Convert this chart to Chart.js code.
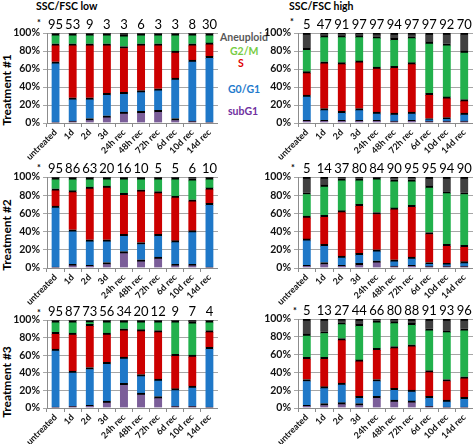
<!DOCTYPE html>
<html>
<head>
<meta charset="utf-8">
<script src="https://cdn.jsdelivr.net/npm/chart.js@4"></script>
<style>
  body { margin: 0; width: 473px; height: 444px; position: relative; overflow: hidden; background: #fff; font-family: Lato, sans-serif; }
  canvas { position: absolute; }
  .t { position: absolute; font-weight: bold; white-space: nowrap; line-height: 1; }
  .rot { transform: translate(-50%, -50%) rotate(-90deg); font-size: 12px; color: #000; }
</style>
</head>
<body>
<div class="t" style="left:36px;top:1px;font-size:10.5px">SSC/FSC low</div>
<div class="t" style="left:289px;top:1px;font-size:10.5px">SSC/FSC high</div>

<div class="t" style="left:37px;top:18px;font-size:9px">*</div>
<div class="t" style="left:37px;top:163px;font-size:9px">*</div>
<div class="t" style="left:37px;top:308px;font-size:9px">*</div>
<div class="t" style="left:290px;top:17px;font-size:9px">*</div>
<div class="t" style="left:291px;top:163px;font-size:9px">*</div>
<div class="t" style="left:293px;top:306px;font-size:9px">*</div>

<div class="t" style="left:220px;top:32px;font-size:10.5px;color:#595959">Aneuploid</div>
<div class="t" style="left:230px;top:46px;font-size:10.5px;color:#77cc44">G2/M</div>
<div class="t" style="left:238px;top:58px;font-size:10.5px;color:#e00000">S</div>
<div class="t" style="left:228px;top:84px;font-size:10.5px;color:#1f7acc">G0/G1</div>
<div class="t" style="left:228px;top:106px;font-size:10.5px;color:#7030a0">subG1</div>

<div class="t rot" style="left:7px;top:90px">Treatment #1</div>
<div class="t rot" style="left:7px;top:235px">Treatment #2</div>
<div class="t rot" style="left:7px;top:382px">Treatment #3</div>

<canvas id="t1low" width="218" height="150" style="left:0;top:13px"></canvas>
<canvas id="t1high" width="223" height="150" style="left:250px;top:13px"></canvas>
<canvas id="t2low" width="218" height="151" style="left:0;top:157px"></canvas>
<canvas id="t2high" width="223" height="151" style="left:250px;top:157px"></canvas>
<canvas id="t3low" width="218" height="148" style="left:0;top:300px"></canvas>
<canvas id="t3high" width="223" height="149" style="left:250px;top:299px"></canvas>

<script>
const categories = ['untreated', '1d', '2d', '3d', '24h rec', '48h rec', '72h rec', '6d rec', '10d rec', '14d rec'];

// Treatment #1, SSC/FSC low
const t1LowCounts = ['95', '53', '9', '3', '3', '6', '3', '3', '8', '30'];
const t1LowSub = [1, 2, 5, 8, 12, 13, 14, 5, 2, 1];
const t1LowG01 = [67, 26, 23, 25, 22, 23, 24, 45, 68, 73];
const t1LowS = [20, 60, 60, 55, 51, 52, 50, 30, 18, 15];
const t1LowG2M = [11, 11, 11, 11, 13, 11, 11, 19, 11, 10];
const t1LowAneu = [1, 1, 1, 1, 2, 1, 1, 1, 1, 1];

// Treatment #1, SSC/FSC high
const t1HighCounts = ['5', '47', '91', '97', '97', '94', '97', '97', '92', '70'];
const t1HighSub = [3, 3, 3, 3, 3, 2, 3, 2, 2, 2];
const t1HighG01 = [28, 13, 10, 13, 9, 9, 9, 3, 4, 9];
const t1HighS = [26, 52, 54, 53, 50, 52, 55, 28, 23, 15];
const t1HighG2M = [26, 29, 30, 28, 34, 31, 29, 57, 59, 54];
const t1HighAneu = [17, 3, 3, 3, 4, 6, 4, 10, 12, 20];

// Treatment #2, SSC/FSC low
const t2LowCounts = ['95', '86', '63', '20', '16', '10', '5', '5', '6', '10'];
const t2LowSub = [1, 4, 3, 6, 18, 9, 12, 4, 4, 1];
const t2LowG01 = [67, 38, 28, 25, 19, 19, 25, 26, 37, 70];
const t2LowS = [19, 43, 58, 59, 45, 58, 47, 49, 34, 17];
const t2LowG2M = [12, 14, 10, 9, 17, 13, 15, 20, 23, 11];
const t2LowAneu = [1, 1, 1, 1, 1, 1, 1, 1, 2, 1];

// Treatment #2, SSC/FSC high
const t2HighCounts = ['5', '14', '37', '80', '84', '90', '95', '95', '94', '90'];
const t2HighSub = [3, 6, 3, 5, 8, 2, 3, 2, 2, 2];
const t2HighG01 = [29, 20, 10, 11, 12, 7, 9, 4, 3, 5];
const t2HighS = [25, 32, 50, 54, 41, 57, 57, 33, 21, 18];
const t2HighG2M = [26, 33, 35, 28, 38, 31, 28, 51, 58, 58];
const t2HighAneu = [17, 9, 2, 2, 1, 3, 3, 10, 16, 17];

// Treatment #3, SSC/FSC low
const t3LowCounts = ['95', '87', '73', '56', '34', '20', '12', '9', '7', '4'];
const t3LowSub = [1, 2, 3, 8, 28, 17, 13, 2, 2, 1];
const t3LowG01 = [66, 40, 43, 44, 30, 21, 20, 20, 23, 68];
const t3LowS = [19, 43, 49, 33, 32, 51, 55, 39, 35, 19];
const t3LowG2M = [13, 14, 4, 14, 9, 10, 11, 38, 38, 11];
const t3LowAneu = [1, 1, 1, 1, 1, 1, 1, 1, 2, 1];

// Treatment #3, SSC/FSC high
const t3HighCounts = ['5', '13', '27', '44', '66', '80', '88', '91', '93', '96'];
const t3HighSub = [3, 5, 6, 5, 13, 9, 8, 2, 1, 1];
const t3HighG01 = [29, 19, 22, 8, 19, 13, 12, 11, 8, 11];
const t3HighS = [25, 33, 50, 41, 35, 47, 51, 29, 23, 23];
const t3HighG2M = [26, 29, 18, 40, 31, 28, 24, 47, 55, 54];
const t3HighAneu = [17, 14, 4, 6, 2, 3, 5, 11, 13, 11];

const colors = ['#7b5e99', '#1f78c8', '#cc0000', '#22b04c', '#404040'];
const tickFont = { family: 'Lato', size: 10.5, weight: 'bold' };

function seg(values, color) {
  return {
    data: values,
    backgroundColor: color,
    borderColor: '#000',
    borderWidth: { top: 2, left: 0, right: 0, bottom: 0 },
    barThickness: 8
  };
}

function makeChart(id, counts, sub, g01, s, g2m, aneu, yWidth) {
  return new Chart(document.getElementById(id), {
    type: 'bar',
    data: {
      labels: categories,
      datasets: [
        seg(sub, colors[0]),
        seg(g01, colors[1]),
        seg(s, colors[2]),
        seg(g2m, colors[3]),
        seg(aneu, colors[4])
      ]
    },
    options: {
      responsive: false,
      animation: false,
      devicePixelRatio: 1,
      layout: { padding: 0 },
      plugins: { legend: { display: false }, tooltip: { enabled: false } },
      scales: {
        x: {
          stacked: true,
          grid: { drawOnChartArea: false, color: '#8c8c8c', tickLength: 4, offset: true },
          border: { color: '#8c8c8c' },
          ticks: { minRotation: 45, maxRotation: 45, autoSkip: false, padding: 0, color: '#111',
                   font: { family: 'Lato', size: 9, weight: 'bold' } },
          afterFit: sc => { sc.height = 40; }
        },
        x2: {
          type: 'category',
          position: 'top',
          labels: counts,
          offset: true,
          grid: { display: false, drawTicks: false, tickLength: 0 },
          border: { display: false },
          ticks: { autoSkip: false, maxRotation: 0, padding: 0, color: '#000',
                   font: { family: 'Lato', size: 13 } },
          afterFit: sc => { sc.height = 20; }
        },
        y: {
          stacked: true,
          min: 0,
          max: 100,
          ticks: { stepSize: 10, callback: v => v + '%', padding: 3, color: '#111', font: tickFont },
          grid: { color: '#a6a6a6', tickLength: 4 },
          border: { color: '#8c8c8c' },
          afterFit: sc => { sc.width = yWidth; }
        }
      }
    }
  });
}

makeChart('t1low', t1LowCounts, t1LowSub, t1LowG01, t1LowS, t1LowG2M, t1LowAneu, 47);
makeChart('t1high', t1HighCounts, t1HighSub, t1HighG01, t1HighS, t1HighG2M, t1HighAneu, 48);
makeChart('t2low', t2LowCounts, t2LowSub, t2LowG01, t2LowS, t2LowG2M, t2LowAneu, 47);
makeChart('t2high', t2HighCounts, t2HighSub, t2HighG01, t2HighS, t2HighG2M, t2HighAneu, 48);
makeChart('t3low', t3LowCounts, t3LowSub, t3LowG01, t3LowS, t3LowG2M, t3LowAneu, 47);
makeChart('t3high', t3HighCounts, t3HighSub, t3HighG01, t3HighS, t3HighG2M, t3HighAneu, 48);
</script>
</body>
</html>
